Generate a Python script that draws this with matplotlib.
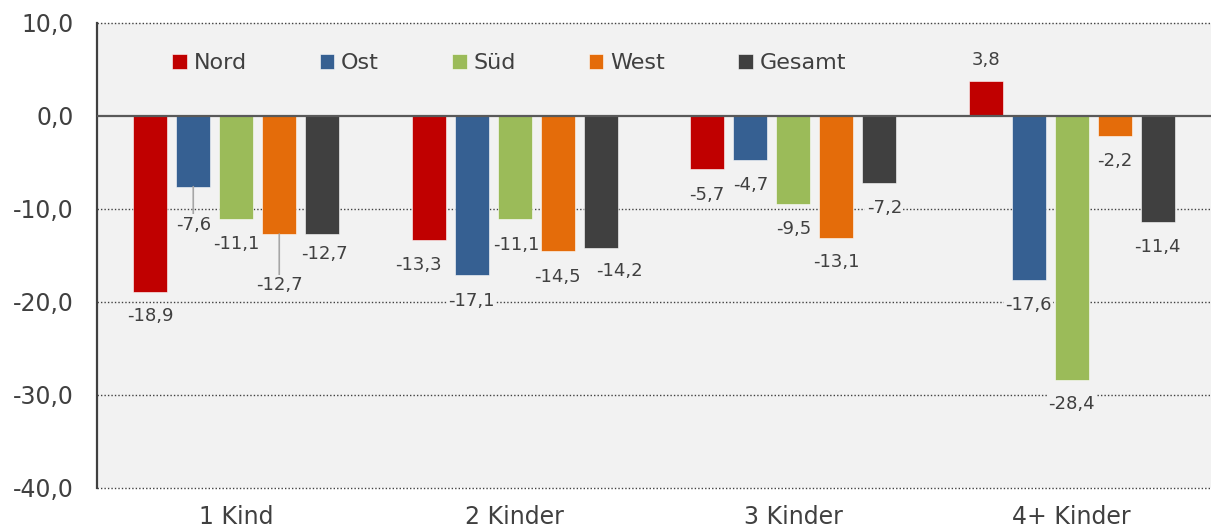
import numpy as np
import matplotlib
matplotlib.use("Agg")
import matplotlib.pyplot as plt  # noqa: E402

CATEGORIES = ["1 Kind", "2 Kinder", "3 Kinder", "4+ Kinder"]
SERIES = ["Nord", "Ost", "Süd", "West", "Gesamt"]
NORD = [-18.9, -13.3, -5.7, 3.8]
OST = [-7.6, -17.1, -4.7, -17.6]
SUED = [-11.1, -11.1, -9.5, -28.4]
WEST = [-12.7, -14.5, -13.1, -2.2]
GESAMT = [-12.7, -14.2, -7.2, -11.4]

COLORS = ["#C00000", "#366092", "#9BBB59", "#E46C0A", "#404040"]
BG = "#F2F2F2"
TXT = "#404040"

# label offsets in pixels from the bar end (dx, dy), one row per series
OFFSETS = [
    [(0, -24), (-10, -25), (0, -26), (0, 21)],
    [(0, -38), (0, -26), (0, -25), (0, -25)],
    [(0, -25), (2, -26), (0, -25), (0, -24)],
    [(0, -51), (0, -26), (0, -24), (0, -25)],
    [(2, -20), (19, -23), (5, -25), (0, -25)],
]


def main() -> None:
    data = [NORD, OST, SUED, WEST, GESAMT]
    fig = plt.figure(figsize=(12.11, 5.31), dpi=100)
    ax = fig.add_axes([0.0801, 0.081, 0.9199, 0.8757])
    ax.set_facecolor(BG)

    x = np.arange(len(CATEGORIES))
    w = 0.122
    step = 0.1544
    for i, (name, vals) in enumerate(zip(SERIES, data)):
        xs = x + (i - 2) * step
        ax.bar(xs, vals, w, color=COLORS[i], edgecolor="#FFFFFF", linewidth=0.4,
               label=name, zorder=3)
        for j, v in enumerate(vals):
            dx, dy = OFFSETS[i][j]
            lead = abs(dy) > 30
            ax.annotate(f"{v:.1f}".replace(".", ","), xy=(xs[j], v),
                        xytext=(dx, dy), textcoords="offset pixels",
                        ha="center", va="center", fontsize=13, color=TXT,
                        bbox=dict(boxstyle="square,pad=0.08", fc=BG, ec="none"),
                        arrowprops=dict(arrowstyle="-", color="#A6A6A6", lw=1.2,
                                        shrinkA=0, shrinkB=0) if lead else None,
                        zorder=4)

    ax.set_xlim(-0.5, 3.5)
    ax.set_ylim(-40, 10)
    ax.set_yticks(np.arange(-40, 11, 10))
    ax.set_yticklabels([f"{t:.1f}".replace(".", ",") for t in np.arange(-40, 11, 10)])
    ax.set_xticks(x)
    ax.set_xticklabels(CATEGORIES)
    ax.tick_params(axis="both", length=0, labelsize=17, colors=TXT)
    ax.tick_params(axis="y", pad=17)
    ax.tick_params(axis="x", pad=12)

    for t in [10, -10, -20, -30, -40]:
        ax.axhline(t, color="#404040", lw=1.0, ls=(0, (1, 1.5)), zorder=1, clip_on=False)
    ax.axhline(0, color="#595959", lw=1.6, zorder=5)
    for s in ["top", "right", "bottom"]:
        ax.spines[s].set_visible(False)
    ax.spines["left"].set_color("#404040")
    ax.spines["left"].set_linewidth(1.6)

    ax.legend(loc="upper left", bbox_to_anchor=(0.0596, 0.954), ncol=5, frameon=False,
              fontsize=16, labelcolor=TXT, handlelength=0.65, handleheight=0.65,
              handletextpad=0.3, columnspacing=3.3, borderaxespad=0)

    fig.savefig("out.png", dpi=100)


if __name__ == "__main__":
    main()
